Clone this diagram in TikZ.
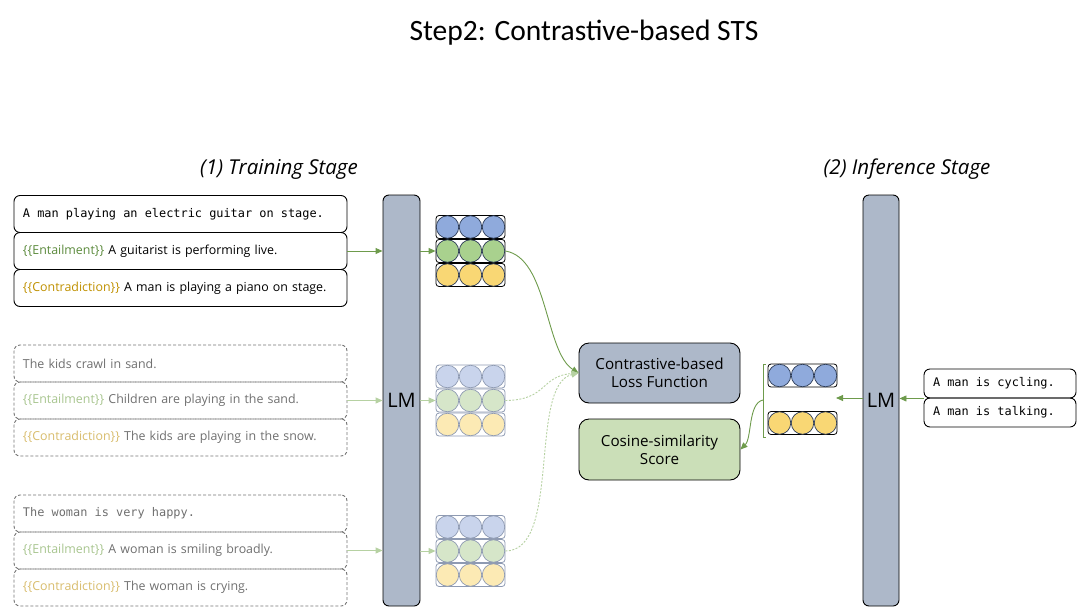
\documentclass[tikz,border=0pt]{standalone}
\usepackage{fontspec}
\setmainfont{Open Sans}
\newfontfamily\titlefont{Carlito}
\newfontfamily\monof{DejaVu Sans Mono}
\usetikzlibrary{arrows.meta,calc}
\definecolor{lmfill}{HTML}{ADB8C9}
\definecolor{cosfill}{HTML}{CBDFB8}
\definecolor{vblue}{HTML}{8FAADC}
\definecolor{vgreen}{HTML}{A9D18E}
\definecolor{vyellow}{HTML}{F9D774}
\definecolor{fblue}{HTML}{C9D4EC}
\definecolor{fgreen}{HTML}{D6E6C9}
\definecolor{fyellow}{HTML}{FCEAB4}
\definecolor{cdark}{HTML}{2B3A55}
\definecolor{cfade}{HTML}{8E9AB2}
\definecolor{entc}{HTML}{5B8A3C}
\definecolor{conc}{HTML}{BF9000}
\definecolor{fentc}{HTML}{A8C58F}
\definecolor{fconc}{HTML}{D8BC6C}
\definecolor{txtgray}{HTML}{6F6F6F}
\definecolor{arrg}{HTML}{6E9B4C}
\definecolor{farrg}{HTML}{B6D1A2}
\newcommand\mono{\monof\fontsize{11.9}{14}\selectfont\spaceskip=0.602em\relax}
\newcommand\vrow[6]{%
  \node[vbox, draw=#5] (#1) at (#2,#3) {};
  \node[vcirc, fill=#4, draw=#6] (#1a) at (#2-23,#3) {};
  \node[vcirc, fill=#4, draw=#6] (#1b) at (#2,#3) {};
  \node[vcirc, fill=#4, draw=#6] (#1c) at (#2+23,#3) {};
}
\begin{document}
\begin{tikzpicture}[x=1pt,y=-1pt,
  sbox/.style={draw=black, line width=0.9pt, rounded corners=6pt, minimum width=333pt, minimum height=37pt, text width=315pt, inner xsep=9pt, inner ysep=0pt, align=left, font=\fontsize{12.4}{15}\selectfont},
  fadebox/.style={sbox, draw=black!55, dash pattern=on 3pt off 2pt, text=txtgray},
  ibox/.style={sbox, minimum width=152pt, text width=134pt, minimum height=29pt},
  vbox/.style={rectangle, rounded corners=3pt, minimum width=69pt, minimum height=23pt, line width=0.8pt, inner sep=0pt},
  vcirc/.style={circle, minimum size=22.5pt, inner sep=0pt, line width=0.7pt},
  lmbar/.style={draw=black, line width=0.9pt, fill=lmfill, rounded corners=6pt, minimum width=37pt, minimum height=411pt, inner sep=0pt, font=\fontsize{20}{24}\selectfont},
  bigbox/.style={draw=black, line width=0.9pt, rounded corners=10pt, minimum width=161pt, minimum height=60pt, align=center, font=\fontsize{15.2}{18}\selectfont},
  garr/.style={draw=arrg, line width=0.9pt, -{Triangle[length=7pt,width=6pt]}},
  farr/.style={draw=farrg, line width=0.9pt, -{Triangle[length=7pt,width=6pt]}},
  fdarr/.style={farr, dash pattern=on 2pt off 1.5pt},
  stage/.style={font=\itshape\fontsize{20.5}{24}\selectfont}
]
\useasboundingbox (0,0) rectangle (1085,614);

\node[font=\titlefont\fontsize{29.5}{34}\selectfont] (title) at (584,33) {Step2: Contrastive-based STS};
\node[stage] (st1) at (279,169) {(1) Training Stage};
\node[stage] (st2) at (907,169) {(2) Inference Stage};

% group 1
\node[sbox] (a1) at (180.5,214) {\mono A man playing an electric guitar on stage.};
\node[sbox] (a2) at (180.5,251) {\textcolor{entc}{\{\{Entailment\}\}} A guitarist is performing live.};
\node[sbox] (a3) at (180.5,288) {\textcolor{conc}{\{\{Contradiction\}\}} A man is playing a piano on stage.};
% group 2
\node[fadebox] (b1) at (180.5,363.5) {The kids crawl in sand.};
\node[fadebox] (b2) at (180.5,400.5) {\textcolor{fentc}{\{\{Entailment\}\}} Children are playing in the sand.};
\node[fadebox] (b3) at (180.5,437.5) {\textcolor{fconc}{\{\{Contradiction\}\}} The kids are playing in the snow.};
% group 3
\node[fadebox] (c1) at (180.5,513.5) {\mono The woman is very happy.};
\node[fadebox] (c2) at (180.5,550.5) {\textcolor{fentc}{\{\{Entailment\}\}} A woman is smiling broadly.};
\node[fadebox] (c3) at (180.5,587.5) {\textcolor{fconc}{\{\{Contradiction\}\}} The woman is crying.};

% LM bars
\node[lmbar] (lm1) at (401.5,400.5) {LM};
\node[lmbar, minimum width=36pt] (lm2) at (881,400.5) {LM};

% vectors group 1
\vrow{pa}{470.5}{227}{vblue}{black}{cdark}
\vrow{pb}{470.5}{251}{vgreen}{black}{cdark}
\vrow{pc}{470.5}{275}{vyellow}{black}{cdark}
% group 2
\vrow{qa}{470.5}{376.5}{fblue}{cfade}{cfade}
\vrow{qb}{470.5}{400.5}{fgreen}{cfade}{cfade}
\vrow{qc}{470.5}{424.5}{fyellow}{cfade}{cfade}
% group 3
\vrow{ra}{470.5}{527}{fblue}{cfade}{cfade}
\vrow{rb}{470.5}{551}{fgreen}{cfade}{cfade}
\vrow{rc}{470.5}{575}{fyellow}{cfade}{cfade}
% inference
\vrow{ia}{802.5}{375.5}{vblue}{black}{cdark}
\vrow{ib}{802.5}{423}{vyellow}{black}{cdark}

% boxes
\node[bigbox, fill=lmfill] (loss) at (659.5,373) {Contrastive-based\\Loss Function};
\node[bigbox, fill=cosfill, minimum height=61pt] (cos) at (659.5,449.5) {Cosine-similarity\\Score};

% inference inputs
\node[ibox] (i1) at (1000,383.5) {\mono A man is cycling.};
\node[ibox] (i2) at (1000,412.5) {\mono A man is talking.};

% arrows into LM1
\draw[garr] (a2.east) -- (a2.east -| lm1.west);
\draw[farr] (b2.east) -- (b2.east -| lm1.west);
\draw[farr] (c2.east) -- (c2.east -| lm1.west);
% arrows LM1 -> vectors
\draw[garr] (pb.west -| lm1.east) -- (pb.west);
\draw[farr] (qb.west -| lm1.east) -- (qb.west);
\draw[farr] (rb.west -| lm1.east) -- (rb.west);
% to loss
\draw[garr] (pb.east) .. controls (548,258) and (545,352) .. (loss.west);
\draw[fdarr] (qb.east) .. controls (548,400) and (540,376) .. (loss.west);
\draw[fdarr] (rb.east) .. controls (562,551) and (528,385) .. (loss.west);

% inference arrows
\coordinate (jn) at (i1.south west);
\draw[garr] (jn) -- (jn -| lm2.east);
\coordinate (vout) at (836,398);
\draw[garr] (vout -| lm2.west) -- (vout);
% bracket
\draw[draw=arrg, line width=0.9pt] (766,364) -- (763,364) -- (763,437) -- (766,437);
\coordinate (br) at (763,400);
\draw[garr] (br) .. controls (748,403) and (752,438) .. (cos.east);
\end{tikzpicture}
\end{document}
